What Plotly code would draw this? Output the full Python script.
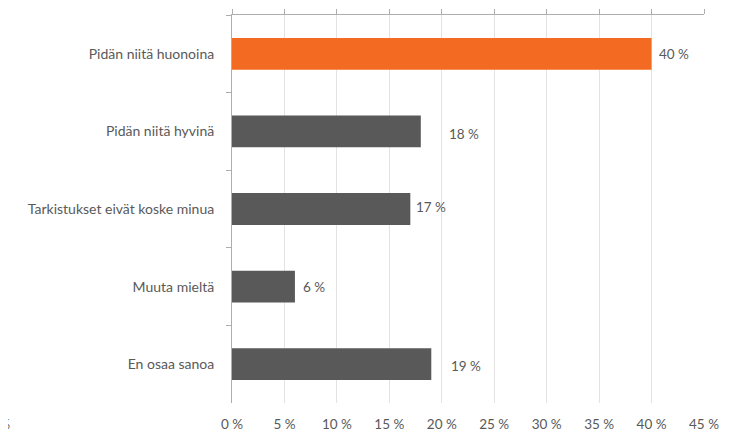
import plotly.graph_objects as go

# data
categories = ["Pidän niitä huonoina", "Pidän niitä hyvinä", "Tarkistukset eivät koske minua",
              "Muuta mieltä", "En osaa sanoa"]
values = [40, 18, 17, 6, 19]
x_ticks = [0, 5, 10, 15, 20, 25, 30, 35, 40, 45]
x_tick_labels = [f"{t} %" for t in x_ticks]

# styles
ORANGE = "#F36B22"
DARK = "#595959"
GRID = "#E3E3E3"
AXIS = "#ADADAD"
FONT = "Lato, 'Open Sans', sans-serif"

# manually placed data labels in the original (pixel nudges)
label_dx = [5, 26, 4, 6, 18]
label_dy = [0, -3, 2, 0, -2]

colors = [ORANGE] + [DARK] * (len(values) - 1)

fig = go.Figure(go.Bar(
    x=values, y=categories, orientation="h",
    marker={"color": colors, "line": {"width": 0}},
    hoverinfo="x+y",
))

for cat, v, dx, dy in zip(categories, values, label_dx, label_dy):
    fig.add_annotation(
        x=v, y=cat, text=f"{v} %", showarrow=False,
        xanchor="left", xshift=dx, yshift=dy,
        font={"family": FONT, "size": 13.5, "color": DARK},
    )

# leftover clipped label at the far left edge of the original
fig.add_annotation(
    xref="paper", yref="paper", x=-0.466, y=-0.055, text="5 %",
    showarrow=False, xanchor="right", yanchor="middle",
    font={"family": FONT, "size": 13.5, "color": DARK},
)

fig.update_layout(
    width=733, height=432,
    margin={"l": 224, "r": 37, "t": 2, "b": 37},
    plot_bgcolor="white", paper_bgcolor="white",
    font={"family": FONT, "color": DARK, "size": 13.5},
    showlegend=False,
    bargap=0.59,
    xaxis=dict(
        range=[0, 45], tickvals=x_ticks, ticktext=x_tick_labels,
        showgrid=True, gridcolor=GRID, gridwidth=1,
        zeroline=False, showline=False, ticks="",
        ticklabelstandoff=11,
        tickfont={"family": FONT, "size": 13.5, "color": DARK},
    ),
    xaxis2=dict(
        range=[0, 45], tickvals=x_ticks, overlaying="x", side="top",
        showline=True, linecolor=AXIS, linewidth=1,
        ticks="outside", ticklen=5, tickcolor=AXIS,
        showticklabels=False, showgrid=False, zeroline=False,
    ),
    yaxis=dict(
        autorange="reversed", categoryorder="array", categoryarray=categories,
        showline=True, linecolor=AXIS, linewidth=1,
        ticks="outside", ticklen=5, tickcolor=AXIS, tickson="boundaries",
        showgrid=False, zeroline=False, ticklabelstandoff=14,
        tickfont={"family": FONT, "size": 14, "color": DARK},
    ),
)

# invisible trace so the top axis is drawn
fig.add_trace(go.Scatter(x=[0], y=[categories[0]], xaxis="x2", mode="markers",
                         marker={"opacity": 0}, hoverinfo="skip"))

fig.write_html("out.html")
